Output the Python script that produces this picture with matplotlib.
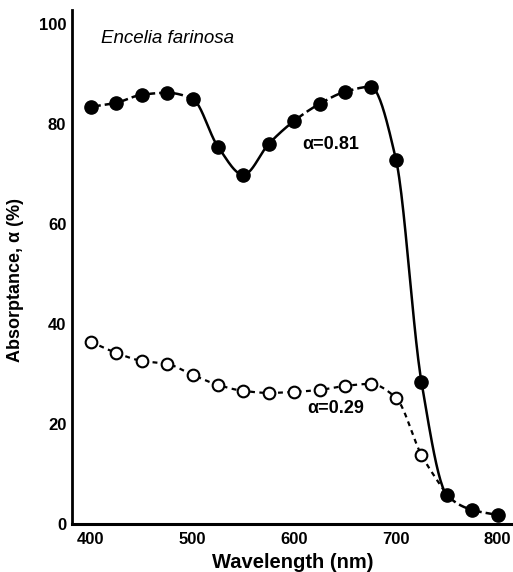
import numpy as np
import matplotlib
matplotlib.use("Agg")
import matplotlib.pyplot as plt

# absorptance spectra of Encelia farinosa leaves
wavelength = [400, 425, 450, 475, 500, 525, 550, 575, 600, 625, 650, 675,
              700, 725, 750, 775, 800]
green_leaf = [83.4, 84.2, 85.8, 86.2, 85.0, 75.4, 69.8, 76.0, 80.6, 84.0,
              86.4, 87.4, 72.8, 28.4, 5.8, 2.8, 1.8]
pubescent_wl = [400, 425, 450, 475, 500, 525, 550, 575, 600, 625, 650,
                675, 700, 725, 750]
pubescent_leaf = [36.4, 34.2, 32.6, 32.0, 29.8, 27.8, 26.6, 26.2, 26.4,
                  26.8, 27.6, 28.0, 25.2, 13.8, 5.8]
open_count = 14  # last point of the pubescent curve is shared with the green one

label_green = "α=0.81"
label_pub = "α=0.29"

# parts of the green-leaf curve drawn as a continuous stroke
solid_ranges = [(500, 600), (675, 750)]


def pchip(x, y, n=24):
    # monotone cubic path through the measured points (line only)
    x = np.asarray(x, float)
    y = np.asarray(y, float)
    h = np.diff(x)
    d = np.diff(y) / h
    m = np.zeros_like(y)
    m[0], m[-1] = d[0], d[-1]
    for k in range(1, len(x) - 1):
        if d[k - 1] * d[k] > 0:
            w1 = 2 * h[k] + h[k - 1]
            w2 = h[k] + 2 * h[k - 1]
            m[k] = (w1 + w2) / (w1 / d[k - 1] + w2 / d[k])
    xs, ys = [], []
    t = np.linspace(0, 1, n, endpoint=False)
    for k in range(len(x) - 1):
        h00 = 2 * t ** 3 - 3 * t ** 2 + 1
        h10 = t ** 3 - 2 * t ** 2 + t
        h01 = -2 * t ** 3 + 3 * t ** 2
        h11 = t ** 3 - t ** 2
        xs.extend(x[k] + t * h[k])
        ys.extend(h00 * y[k] + h10 * h[k] * m[k] + h01 * y[k + 1] + h11 * h[k] * m[k + 1])
    xs.append(x[-1])
    ys.append(y[-1])
    return np.array(xs), np.array(ys)


plt.rcParams['font.family'] = ['Liberation Sans', 'DejaVu Sans']

fig = plt.figure(figsize=(5.13, 5.72), dpi=100)
ax = fig.add_axes([0.140, 0.084, 0.860, 0.899])

sx, sy = pchip(pubescent_wl, pubescent_leaf)
ax.plot(sx, sy, color='black', lw=1.6, dashes=(2.2, 2.0), zorder=2)
ax.plot(pubescent_wl[:open_count], pubescent_leaf[:open_count], 'o',
        ms=8.4, mfc='white', mec='black', mew=1.5, zorder=3)

gx, gy = pchip(wavelength, green_leaf)
solid = np.zeros(len(gx), bool)
for lo, hi in solid_ranges:
    solid |= (gx >= lo) & (gx <= hi)
ax.plot(gx, np.where(solid, gy, np.nan), color='black', lw=1.8,
        solid_capstyle='round', zorder=2)
ax.plot(gx, np.where(solid, np.nan, gy), color='black', lw=1.8,
        dashes=(4, 1.6), zorder=2)
ax.plot(wavelength, green_leaf, 'o', ms=9.5, color='black', zorder=4)

ax.text(410, 97.0, "Encelia farinosa", style='italic', fontsize=13.5,
        va='center', ha='left')
ax.text(608, 75.8, label_green, fontsize=13, fontweight='bold',
        va='center', ha='left')
ax.text(613, 23.0, label_pub, fontsize=13, fontweight='bold',
        va='center', ha='left')

ax.set_xlim(381.3, 815)
ax.set_ylim(0, 102.8)
ax.set_xticks([400, 500, 600, 700, 800])
ax.set_yticks([0, 20, 40, 60, 80, 100])
ax.tick_params(length=0, labelsize=12, pad=4)
ax.tick_params(axis='x', pad=6)
for lab in ax.get_xticklabels() + ax.get_yticklabels():
    lab.set_fontweight('bold')

ax.spines['top'].set_visible(False)
ax.spines['right'].set_visible(False)
ax.spines['left'].set_linewidth(2.0)
ax.spines['bottom'].set_linewidth(2.2)

ax.set_xlabel("Wavelength (nm)", fontsize=14.5, fontweight='bold')
ax.xaxis.set_label_coords(0.5, -0.056)
ax.set_ylabel("Absorptance, α (%)", fontsize=13, fontweight='bold')
ax.yaxis.set_label_coords(-0.108, 0.475)

fig.savefig("out.png", dpi=100)
